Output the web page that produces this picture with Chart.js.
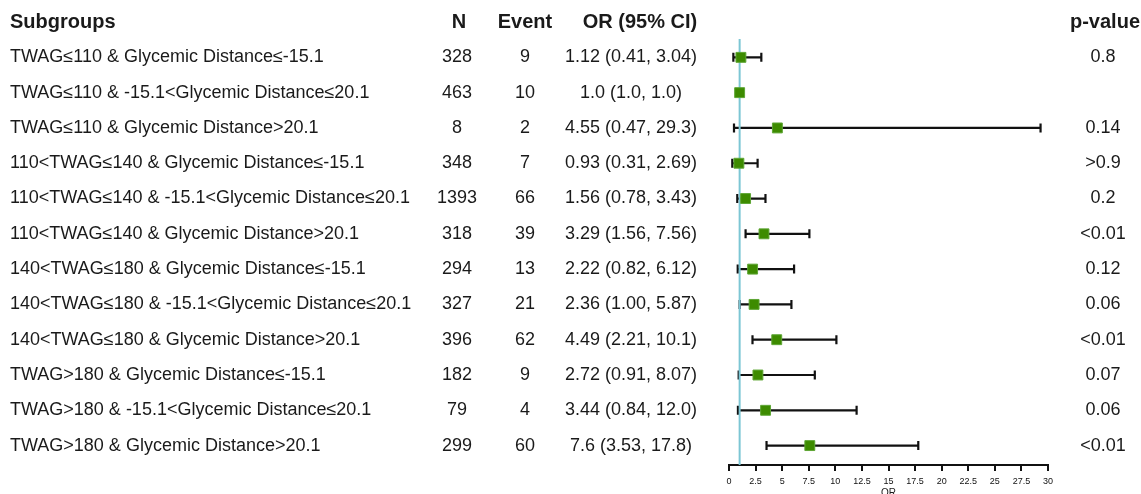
<!DOCTYPE html>
<html>
<head>
<meta charset="utf-8">
<script src="https://cdn.jsdelivr.net/npm/chart.js@4"></script>
<style>
  html, body { margin: 0; padding: 0; background: #fff; }
  #wrap { width: 1141px; height: 494px; position: relative; }
</style>
</head>
<body>
<div id="wrap"><canvas id="chart"></canvas></div>
<script>
const subgroups = [
  "TWAG≤110 & Glycemic Distance≤-15.1",
  "TWAG≤110 & -15.1<Glycemic Distance≤20.1",
  "TWAG≤110 & Glycemic Distance>20.1",
  "110<TWAG≤140 & Glycemic Distance≤-15.1",
  "110<TWAG≤140 & -15.1<Glycemic Distance≤20.1",
  "110<TWAG≤140 & Glycemic Distance>20.1",
  "140<TWAG≤180 & Glycemic Distance≤-15.1",
  "140<TWAG≤180 & -15.1<Glycemic Distance≤20.1",
  "140<TWAG≤180 & Glycemic Distance>20.1",
  "TWAG>180 & Glycemic Distance≤-15.1",
  "TWAG>180 & -15.1<Glycemic Distance≤20.1",
  "TWAG>180 & Glycemic Distance>20.1"
];
const nValues = [328, 463, 8, 348, 1393, 318, 294, 327, 396, 182, 79, 299];
const events = [9, 10, 2, 7, 66, 39, 13, 21, 62, 9, 4, 60];
const orValues = [1.12, 1.0, 4.55, 0.93, 1.56, 3.29, 2.22, 2.36, 4.49, 2.72, 3.44, 7.6];
const ciLow = [0.41, 1.0, 0.47, 0.31, 0.78, 1.56, 0.82, 1.00, 2.21, 0.91, 0.84, 3.53];
const ciHigh = [3.04, 1.0, 29.3, 2.69, 3.43, 7.56, 6.12, 5.87, 10.1, 8.07, 12.0, 17.8];
const orLabels = [
  "1.12 (0.41, 3.04)", "1.0 (1.0, 1.0)", "4.55 (0.47, 29.3)", "0.93 (0.31, 2.69)",
  "1.56 (0.78, 3.43)", "3.29 (1.56, 7.56)", "2.22 (0.82, 6.12)", "2.36 (1.00, 5.87)",
  "4.49 (2.21, 10.1)", "2.72 (0.91, 8.07)", "3.44 (0.84, 12.0)", "7.6 (3.53, 17.8)"
];
const pValues = ["0.8", "", "0.14", ">0.9", "0.2", "<0.01", "0.12", "0.06", "<0.01", "0.07", "0.06", "<0.01"];
const headers = ["Subgroups", "N", "Event", "OR (95% CI)", "p-value"];
const refLine = 1;
const xMin = 0, xMax = 30, xStep = 2.5;

const FONT = "'Liberation Sans', Arial, sans-serif";

// barres d'erreur + ligne de référence
const forestPlugin = {
  id: "forest",
  beforeDatasetsDraw(chart) {
    const { ctx, chartArea, scales } = chart;
    const x = scales.x, y = scales.y;
    ctx.save();
    ctx.strokeStyle = "#111";
    ctx.lineWidth = 2.2;
    orValues.forEach((v, i) => {
      if (ciLow[i] === ciHigh[i]) return;
      const py = y.getPixelForValue(i + 1);
      const x1 = x.getPixelForValue(ciLow[i]);
      const x2 = x.getPixelForValue(ciHigh[i]);
      ctx.beginPath();
      ctx.moveTo(x1, py); ctx.lineTo(x2, py);
      ctx.moveTo(x1, py - 4.5); ctx.lineTo(x1, py + 4.5);
      ctx.moveTo(x2, py - 4.5); ctx.lineTo(x2, py + 4.5);
      ctx.stroke();
    });
    const rx = x.getPixelForValue(refLine);
    ctx.strokeStyle = "#7cc6d4";
    ctx.lineWidth = 2;
    ctx.beginPath();
    ctx.moveTo(rx, chartArea.top);
    ctx.lineTo(rx, chartArea.bottom);
    ctx.stroke();
    ctx.restore();
  },
  afterDraw(chart) {
    const { ctx, scales } = chart;
    const y = scales.y;
    ctx.save();
    ctx.fillStyle = "#1a1a1a";
    ctx.textBaseline = "middle";

    // en-têtes
    const hy = y.getPixelForValue(0);
    ctx.font = "bold 20px " + FONT;
    ctx.textAlign = "left";
    ctx.fillText(headers[0], 10, hy);
    ctx.textAlign = "center";
    ctx.fillText(headers[1], 459, hy);
    ctx.fillText(headers[2], 525, hy);
    ctx.fillText(headers[3], 640, hy);
    ctx.fillText(headers[4], 1105, hy);

    // lignes
    ctx.font = "18px " + FONT;
    subgroups.forEach((s, i) => {
      const py = y.getPixelForValue(i + 1);
      ctx.textAlign = "left";
      ctx.fillText(s, 10, py);
      ctx.textAlign = "center";
      ctx.fillText(String(nValues[i]), 457, py);
      ctx.fillText(String(events[i]), 525, py);
      ctx.fillText(orLabels[i], 631, py);
      ctx.fillText(pValues[i], 1103, py);
    });

    // titre de l'axe
    ctx.font = "10px " + FONT;
    ctx.fillText("OR", scales.x.getPixelForValue(15), 493);
    ctx.restore();
  }
};

new Chart(document.getElementById("chart"), {
  type: "scatter",
  data: {
    datasets: [{
      data: orValues.map((v, i) => ({ x: v, y: i + 1 })),
      pointStyle: "rect",
      pointRadius: 7,
      backgroundColor: "#3d8b00",
      borderColor: "#5ea634",
      borderWidth: 1
    }]
  },
  options: {
    responsive: true,
    maintainAspectRatio: false,
    animation: false,
    layout: { padding: { left: 729, right: 93, top: 39, bottom: 0 } },
    plugins: { legend: { display: false }, tooltip: { enabled: false } },
    scales: {
      x: {
        type: "linear",
        min: xMin,
        max: xMax,
        afterFit: (s) => { s.height = 29; },
        ticks: {
          stepSize: xStep,
          color: "#111",
          font: { size: 9, family: FONT },
          padding: 5,
          maxRotation: 0,
          autoSkip: false,
          callback: (v) => String(v)
        },
        grid: { drawOnChartArea: false, drawTicks: true, tickLength: 6, color: "#111", lineWidth: 2 },
        border: { color: "#111", width: 2 }
      },
      y: {
        display: false,
        type: "linear",
        reverse: true,
        min: 0.48,
        max: 12.55
      }
    }
  },
  plugins: [forestPlugin]
});
</script>
</body>
</html>
